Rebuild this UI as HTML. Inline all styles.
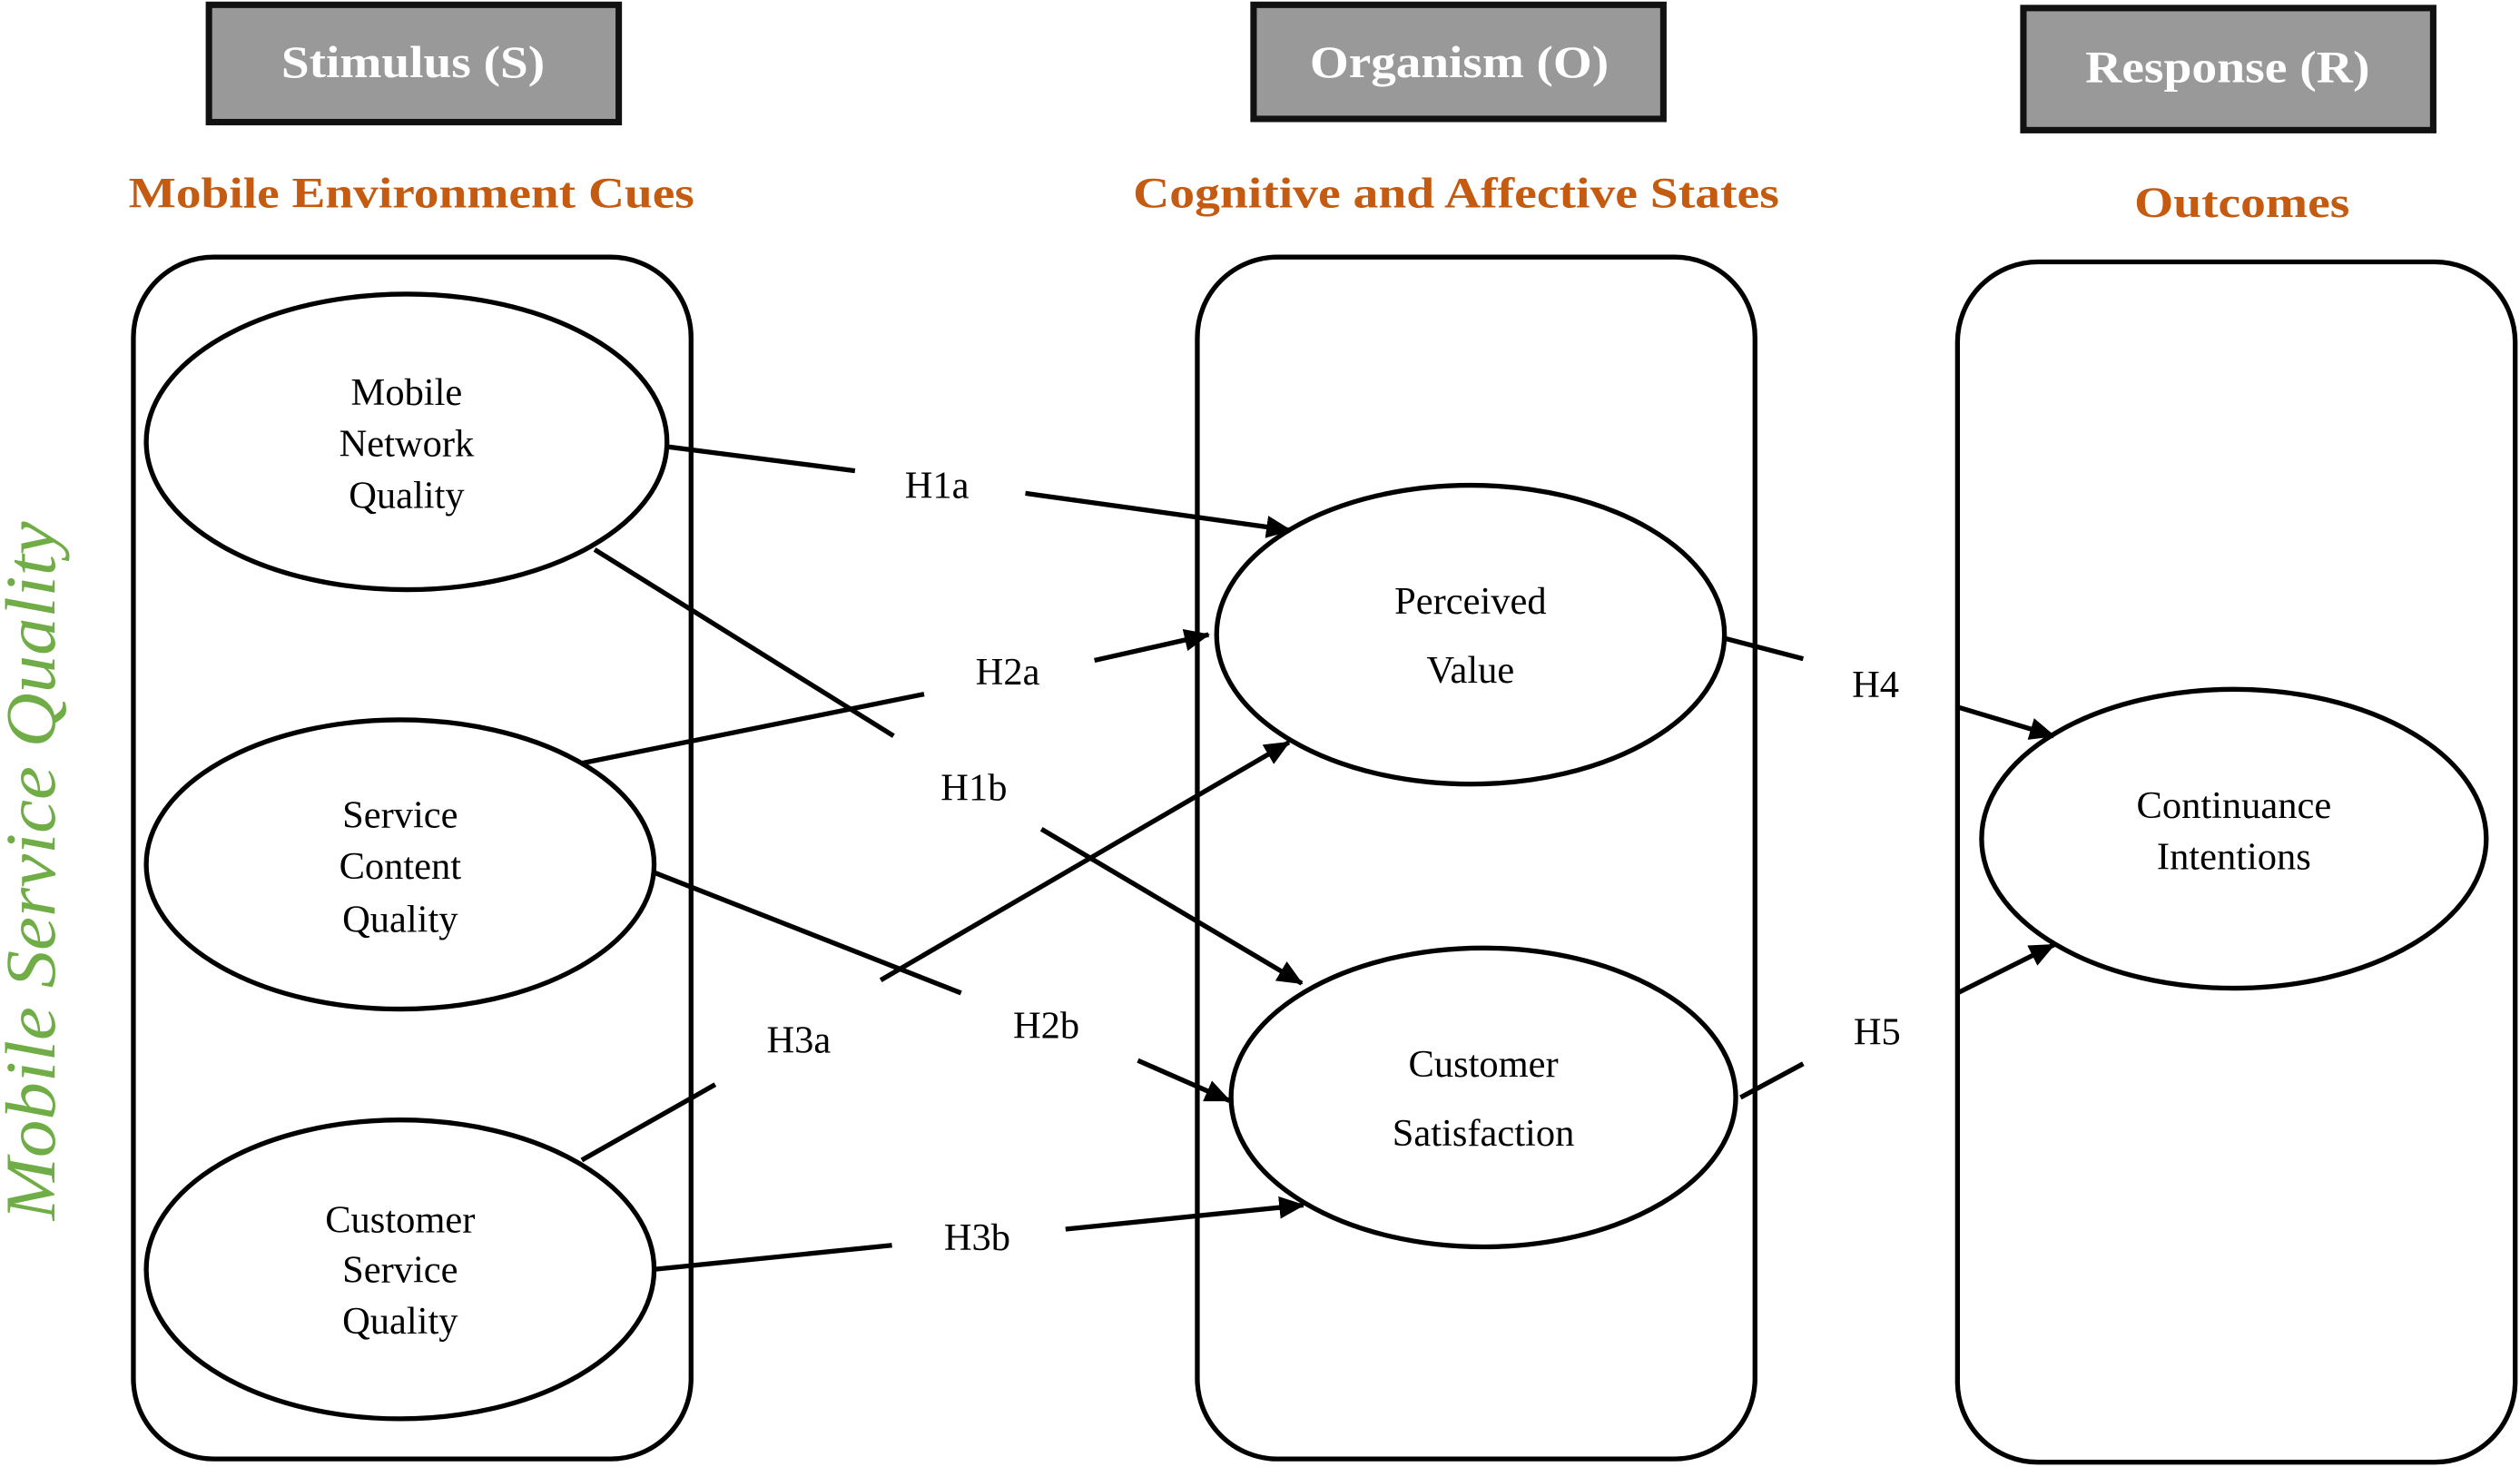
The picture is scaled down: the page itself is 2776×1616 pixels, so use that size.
<!DOCTYPE html>
<html><head><meta charset="utf-8"><style>
html,body{margin:0;padding:0;background:#fff;width:2776px;height:1616px;overflow:hidden}
svg{display:block}
text{font-family:"Liberation Serif",serif}
</style></head><body>
<svg width="2776" height="1616" viewBox="0 0 1568 913" preserveAspectRatio="none" xmlns="http://www.w3.org/2000/svg">
<defs><marker id="a" markerWidth="16" markerHeight="14" refX="15" refY="7" orient="auto" markerUnits="userSpaceOnUse"><path d="M0,0 L16,7 L0,14 z" fill="#000"/></marker></defs>
<g stroke="#111" stroke-width="4" fill="#999">
<rect x="130" y="3" width="255" height="73"/>
<rect x="780" y="3" width="255" height="71"/>
<rect x="1259" y="5" width="255" height="76"/>
</g>
<g fill="#fff" font-weight="bold" font-size="28" text-anchor="middle">
<text x="257" y="48" textLength="164" lengthAdjust="spacingAndGlyphs">Stimulus (S)</text>
<text x="908" y="48" textLength="186" lengthAdjust="spacingAndGlyphs">Organism (O)</text>
<text x="1386" y="51" textLength="177" lengthAdjust="spacingAndGlyphs">Response (R)</text>
</g>
<g fill="#c55a11" font-weight="bold" font-size="27" text-anchor="middle">
<text x="256" y="129" textLength="352" lengthAdjust="spacingAndGlyphs">Mobile Environment Cues</text>
<text x="906" y="129" textLength="402" lengthAdjust="spacingAndGlyphs">Cognitive and Affective States</text>
<text x="1395" y="135" textLength="134" lengthAdjust="spacingAndGlyphs">Outcomes</text>
</g>
<text transform="translate(34,542) rotate(-90)" text-anchor="middle" fill="#70ad47" font-style="italic" font-size="44" textLength="435" lengthAdjust="spacingAndGlyphs">Mobile Service Quality</text>
<g fill="none" stroke="#000" stroke-width="3">
<rect x="83" y="160" width="347" height="748" rx="50"/>
<rect x="745" y="160" width="347" height="748" rx="50"/>
<rect x="1218" y="163" width="347" height="747" rx="50"/>
<ellipse cx="253" cy="275" rx="162" ry="92"/>
<ellipse cx="249" cy="538" rx="158" ry="90"/>
<ellipse cx="249" cy="790" rx="158" ry="93"/>
<ellipse cx="915" cy="395" rx="158" ry="93"/>
<ellipse cx="923" cy="683" rx="157" ry="93"/>
<ellipse cx="1390" cy="522" rx="157" ry="93"/>
</g>
<g stroke="#000" stroke-width="3" fill="none">
<line x1="415" y1="278" x2="532" y2="293"/><line x1="638" y1="307" x2="803" y2="330" marker-end="url(#a)"/>
<line x1="370" y1="342" x2="556" y2="458"/><line x1="648" y1="516" x2="810" y2="612" marker-end="url(#a)"/>
<line x1="362" y1="475" x2="575" y2="432"/><line x1="681" y1="411" x2="752" y2="395" marker-end="url(#a)"/>
<line x1="407" y1="543" x2="598" y2="618"/><line x1="708" y1="660" x2="765" y2="685" marker-end="url(#a)"/>
<line x1="362" y1="722" x2="445" y2="675"/><line x1="548" y1="610" x2="802" y2="462" marker-end="url(#a)"/>
<line x1="407" y1="790" x2="555" y2="775"/><line x1="663" y1="765" x2="811" y2="750" marker-end="url(#a)"/>
<line x1="1072" y1="397" x2="1122" y2="410"/><line x1="1218" y1="440" x2="1278" y2="458" marker-end="url(#a)"/>
<line x1="1083" y1="683" x2="1122" y2="662"/><line x1="1218" y1="618" x2="1278" y2="588" marker-end="url(#a)"/>
</g>
<g font-size="24" text-anchor="middle" fill="#000">
<text x="583" y="310">H1a</text>
<text x="627" y="426">H2a</text>
<text x="606" y="498">H1b</text>
<text x="497" y="655">H3a</text>
<text x="651" y="646">H2b</text>
<text x="608" y="778">H3b</text>
<text x="1167" y="434">H4</text>
<text x="1168" y="650">H5</text>
<text x="253" y="252">Mobile</text><text x="253" y="284">Network</text><text x="253" y="316">Quality</text>
<text x="249" y="515">Service</text><text x="249" y="547">Content</text><text x="249" y="580">Quality</text>
<text x="249" y="767">Customer</text><text x="249" y="798">Service</text><text x="249" y="830">Quality</text>
<text x="915" y="382">Perceived</text><text x="915" y="425">Value</text>
<text x="923" y="670">Customer</text><text x="923" y="713">Satisfaction</text>
<text x="1390" y="509">Continuance</text><text x="1390" y="541">Intentions</text>
</g>
</svg>
</body></html>
